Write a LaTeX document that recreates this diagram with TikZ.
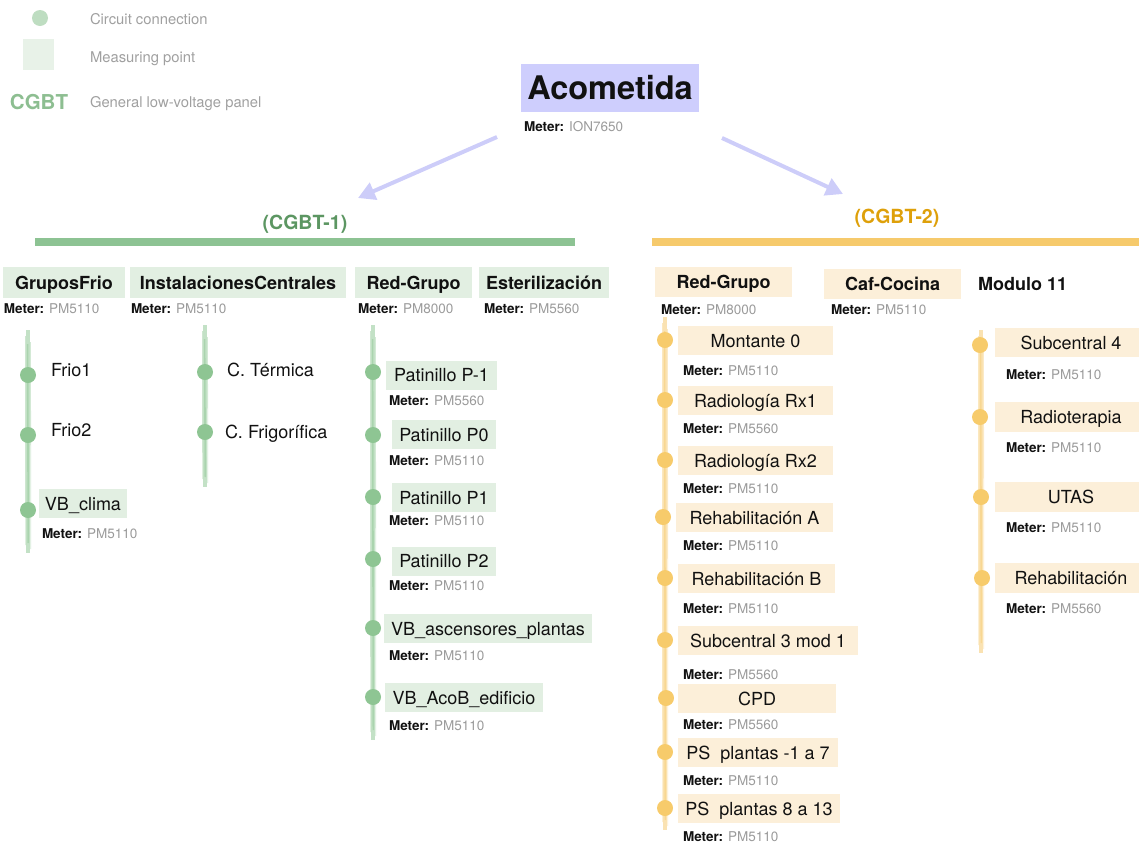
\documentclass[tikz,border=0pt]{standalone}
\usepackage{fontspec}
\setmainfont{TeX Gyre Heros}
\usetikzlibrary{arrows.meta}

% palette
\definecolor{gfill}{HTML}{E2EFE2}
\definecolor{gfillleg}{HTML}{E8F2E8}
\definecolor{gdotc}{HTML}{8EC593}
\definecolor{gdotleg}{HTML}{BEDDC1}
\definecolor{gline}{HTML}{92C897}
\definecolor{gbar}{HTML}{8DC393}
\definecolor{gtext}{HTML}{5C9662}
\definecolor{gtextleg}{HTML}{8DBE91}
\definecolor{yfill}{HTML}{FCEFD9}
\definecolor{ydotc}{HTML}{F7CB6B}
\definecolor{yline}{HTML}{F6CB72}
\definecolor{ybar}{HTML}{F6CA6C}
\definecolor{ytext}{HTML}{DEA00A}
\definecolor{acofill}{HTML}{CECEFD}
\definecolor{arrc}{HTML}{CDCDF9}
\definecolor{mgray}{HTML}{9A9A9A}
\definecolor{lgray}{HTML}{A0A0A0}
\definecolor{ink}{HTML}{111111}

% type sizes
\newcommand\fsHead{\bfseries\fontsize{18}{20}\selectfont}
\newcommand\fsItem{\fontsize{18}{20}\selectfont}
\newcommand\fsMeter{\fontsize{13.5}{15}\selectfont}
\newcommand\fsLeg{\fontsize{14.8}{16}\selectfont}

% "Meter: model" caption
\newcommand\meterlbl[1]{{\bfseries Meter:} \textcolor{mgray}{#1}}

% brushed bus line between (<name>-t) and (<name>-b)
\newcommand\busline[2]{%
  \draw[line width=4pt,draw=#1,opacity=.55] (#2-t) -- (#2-b);
  \draw[line width=1.6pt,draw=#1,opacity=.5] ([xshift=-.4pt,yshift=-14pt]#2-t) -- ([xshift=.3pt,yshift=10pt]#2-b);
  \draw[line width=.8pt,draw=#1,opacity=.45] ([xshift=-2.6pt,yshift=-6pt]#2-t) -- ([xshift=-2.3pt,yshift=8pt]#2-b);
  \draw[line width=.8pt,draw=#1,opacity=.4] ([xshift=2.5pt,yshift=-12pt]#2-t) -- ([xshift=2.8pt,yshift=4pt]#2-b);
}

\begin{document}
\begin{tikzpicture}[x=1pt,y=-1pt,
  every node/.style={inner sep=0pt,outer sep=0pt,text depth=0pt,text=ink},
  ghead/.style={fill=gfill,font=\fsHead,text height=13pt,minimum height=31},
  yhead/.style={fill=yfill,font=\fsHead,text height=13pt,minimum height=30},
  gbox/.style={fill=gfill,font=\fsItem,text height=13pt,minimum height=29},
  ybox/.style={fill=yfill,font=\fsItem,text height=13pt,minimum height=29},
  itemtxt/.style={font=\fsItem,text height=13pt,anchor=west},
  meternode/.style={font=\fsMeter,text height=9.7pt,anchor=west},
  gdot/.style={circle,fill=gdotc,minimum size=16},
  ydot/.style={circle,fill=ydotc,minimum size=16},
  legtxt/.style={font=\fsLeg,text=lgray,text height=10.6pt,anchor=west},
  panel/.style={font=\bfseries\fontsize{19.5}{21}\selectfont,text height=14pt},
  feeder/.style={draw=arrc,line width=4pt,-{Triangle[length=17pt,width=18pt]}}]

\useasboundingbox (0,0) rectangle (1139,844);
\clip (0,0) rectangle (1139,844);

% ---------- legend ----------
\node[circle,fill=gdotleg,minimum size=16] (lg-dot) at (40,18) {};
\node[legtxt] (lg-t1) at (90,19) {Circuit connection};
\node[fill=gfillleg,minimum size=31] (lg-sq) at (38.5,54.5) {};
\node[legtxt] (lg-t2) at (90,57) {Measuring point};
\node[font=\bfseries\fontsize{20.5}{22}\selectfont,text height=14.8pt,text=gtextleg] (lg-cgbt) at (39,102) {CGBT};
\node[legtxt] (lg-t3) at (90,102) {General low-voltage panel};

% ---------- supply ----------
\node[fill=acofill,font=\bfseries\fontsize{32.5}{34}\selectfont,text height=23.4pt,
      minimum width=178,minimum height=48] (aco) at (610,88) {Acometida};
\node[meternode] (aco-m) at (524,127) {\meterlbl{ION7650}};

% ---------- panels ----------
\node[panel,text=gtext] (cg1) at (305,222) {(CGBT-1)};
\node[fill=gbar,minimum width=540,minimum height=8] (bar1) at (305,242) {};
\node[panel,text=ytext] (cg2) at (897,216) {(CGBT-2)};
\node[fill=ybar,minimum width=487,minimum height=8] (bar2) at (895.5,242) {};

\coordinate (f1-s) at (497,137);
\coordinate (f1-e) at (358,198);
\coordinate (f2-s) at (722,138);
\coordinate (f2-e) at (843,194);
\draw[feeder] (f1-s) -- (f1-e);
\draw[feeder] (f2-s) -- (f2-e);

% ---------- CGBT-1 headers ----------
\node[ghead,minimum width=122] (gf) at (64,282.5) {GruposFrio};
\node[meternode] (gf-m) at (4,309) {\meterlbl{PM5110}};
\node[ghead,minimum width=216] (ic) at (238,282.5) {InstalacionesCentrales};
\node[meternode] (ic-m) at (131,309) {\meterlbl{PM5110}};
\node[ghead,minimum width=117] (rg1) at (413.5,282.5) {Red-Grupo};
\node[meternode] (rg1-m) at (358,309) {\meterlbl{PM8000}};
\node[ghead,minimum width=130] (est) at (544,282.5) {Esterilización};
\node[meternode] (est-m) at (484,309) {\meterlbl{PM5560}};

% ---------- CGBT-1 : GruposFrio ----------
\coordinate (gfbus-t) at (28,330);
\coordinate (gfbus-b) at (28,553);
\busline{gline}{gfbus}
\node[gdot] (gf-d1) at (28,375) {};
\node[gdot] (gf-d2) at (28,435) {};
\node[gdot] (gf-d3) at (28,510) {};
\node[itemtxt] (frio1) at (51,370) {Frio1};
\node[itemtxt] (frio2) at (51,430) {Frio2};
\node[gbox,minimum width=88] (vbclima) at (83,503.5) {VB\_clima};
\node[meternode] (vbclima-m) at (42,534) {\meterlbl{PM5110}};

% ---------- CGBT-1 : InstalacionesCentrales ----------
\coordinate (icbus-t) at (205,325);
\coordinate (icbus-b) at (205,487);
\busline{gline}{icbus}
\node[gdot] (ic-d1) at (205,372) {};
\node[gdot] (ic-d2) at (205,432) {};
\node[itemtxt] (cterm) at (227,370) {C. Térmica};
\node[itemtxt] (cfrig) at (225,432) {C. Frigorífica};

% ---------- CGBT-1 : Red-Grupo ----------
\coordinate (rg1bus-t) at (373,325);
\coordinate (rg1bus-b) at (373,740);
\busline{gline}{rg1bus}
\node[gdot] (rg1-d1) at (373,372) {};
\node[gdot] (rg1-d2) at (373,435) {};
\node[gdot] (rg1-d3) at (373,497) {};
\node[gdot] (rg1-d4) at (373,559) {};
\node[gdot] (rg1-d5) at (373,628) {};
\node[gdot] (rg1-d6) at (373,697) {};
\node[gbox,minimum width=111] (pm1) at (441.5,375) {Patinillo P-1};
\node[meternode] (pm1-m) at (389,401) {\meterlbl{PM5560}};
\node[gbox,minimum width=104] (p0) at (444,434.5) {Patinillo P0};
\node[meternode] (p0-m) at (389,461) {\meterlbl{PM5110}};
\node[gbox,minimum width=104] (p1) at (444,497.5) {Patinillo P1};
\node[meternode] (p1-m) at (389,521) {\meterlbl{PM5110}};
\node[gbox,minimum width=104] (p2) at (444,561) {Patinillo P2};
\node[meternode] (p2-m) at (389,586) {\meterlbl{PM5110}};
\node[gbox,minimum width=208] (vbasc) at (488,628.5) {VB\_ascensores\_plantas};
\node[meternode] (vbasc-m) at (389,656) {\meterlbl{PM5110}};
\node[gbox,minimum width=158] (vbacob) at (464,697.5) {VB\_AcoB\_edificio};
\node[meternode] (vbacob-m) at (389,726) {\meterlbl{PM5110}};

% ---------- CGBT-2 headers ----------
\node[yhead,minimum width=137] (rg2) at (723.5,282) {Red-Grupo};
\node[meternode] (rg2-m) at (661,310) {\meterlbl{PM8000}};
\node[yhead,minimum width=137] (caf) at (892.5,284) {Caf-Cocina};
\node[meternode] (caf-m) at (831,310) {\meterlbl{PM5110}};
\node[font=\fsHead,text height=13pt,anchor=west] (mod11) at (978,284) {Modulo 11};

% ---------- CGBT-2 : Red-Grupo ----------
\coordinate (rg2bus-t) at (665,317);
\coordinate (rg2bus-b) at (665,830);
\busline{yline}{rg2bus}
\node[ydot] (rg2-d1) at (665,340) {};
\node[ydot] (rg2-d2) at (665,400) {};
\node[ydot] (rg2-d3) at (665,460) {};
\node[ydot] (rg2-d4) at (663,517) {};
\node[ydot] (rg2-d5) at (665,578) {};
\node[ydot] (rg2-d6) at (665,640) {};
\node[ydot] (rg2-d7) at (666,698) {};
\node[ydot] (rg2-d8) at (665,752) {};
\node[ydot] (rg2-d9) at (665,808) {};
\node[ybox,minimum width=155] (mont0) at (755.5,340.5) {Montante 0};
\node[meternode] (mont0-m) at (683,371) {\meterlbl{PM5110}};
\node[ybox,minimum width=155] (rx1) at (755.5,400.5) {Radiología Rx1};
\node[meternode] (rx1-m) at (683,429) {\meterlbl{PM5560}};
\node[ybox,minimum width=155] (rx2) at (755.5,460.5) {Radiología Rx2};
\node[meternode] (rx2-m) at (683,489) {\meterlbl{PM5110}};
\node[ybox,minimum width=157] (rha) at (754.5,517.5) {Rehabilitación A};
\node[meternode] (rha-m) at (683,546) {\meterlbl{PM5110}};
\node[ybox,minimum width=157] (rhb) at (756.5,578.5) {Rehabilitación B};
\node[meternode] (rhb-m) at (683,609) {\meterlbl{PM5110}};
\node[ybox,minimum width=180] (sc3) at (768,640.5) {Subcentral 3 mod 1};
\node[meternode] (sc3-m) at (683,675) {\meterlbl{PM5560}};
\node[ybox,minimum width=158] (cpd) at (757,698.5) {CPD};
\node[meternode] (cpd-m) at (683,725) {\meterlbl{PM5560}};
\node[ybox,minimum width=160] (ps1) at (758,752.5) {PS\ \ plantas -1 a 7};
\node[meternode] (ps1-m) at (683,781) {\meterlbl{PM5110}};
\node[ybox,minimum width=162] (ps8) at (759,808.5) {PS\ \ plantas 8 a 13};
\node[meternode] (ps8-m) at (683,837) {\meterlbl{PM5110}};

% ---------- CGBT-2 : Modulo 11 ----------
\coordinate (m11bus-t) at (981,330);
\coordinate (m11bus-b) at (981,653);
\busline{yline}{m11bus}
\node[ydot] (m11-d1) at (980,345) {};
\node[ydot] (m11-d2) at (980,417) {};
\node[ydot] (m11-d3) at (981,497) {};
\node[ydot] (m11-d4) at (982,578) {};
\node[ybox,minimum width=152] (sc4) at (1071,342.5) {Subcentral 4};
\node[meternode] (sc4-m) at (1006,375) {\meterlbl{PM5110}};
\node[ybox,minimum width=152,minimum height=30] (radio) at (1071,417) {Radioterapia};
\node[meternode] (radio-m) at (1006,448) {\meterlbl{PM5110}};
\node[ybox,minimum width=152,minimum height=30] (utas) at (1071,497) {UTAS};
\node[meternode] (utas-m) at (1006,528) {\meterlbl{PM5110}};
\node[ybox,minimum width=152,minimum height=30] (rehab) at (1071,578) {Rehabilitación};
\node[meternode] (rehab-m) at (1006,609) {\meterlbl{PM5560}};

\end{tikzpicture}
\end{document}
